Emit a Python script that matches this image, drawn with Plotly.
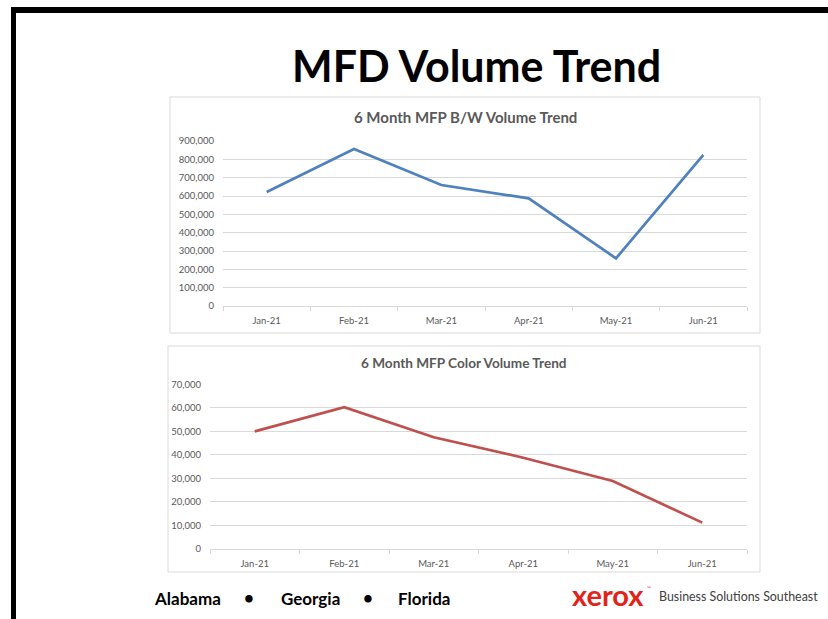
import plotly.graph_objects as go

W, H = 828, 619

months = ["Jan-21", "Feb-21", "Mar-21", "Apr-21", "May-21", "Jun-21"]
bw_volume = [622000, 856000, 660000, 587000, 260000, 824000]
color_volume = [50000, 60300, 47500, 38800, 28900, 11200]
bw_ticks = [0, 100000, 200000, 300000, 400000, 500000, 600000, 700000, 800000, 900000]
color_ticks = [0, 10000, 20000, 30000, 40000, 50000, 60000, 70000]
states = ["Alabama", "Georgia", "Florida"]

def px(x):
    return x / W

def py(y):
    return 1 - y / H

fig = go.Figure()
fig.add_trace(go.Scatter(x=months, y=bw_volume, mode="lines",
                         line=dict(color="#4F81BD", width=2.7),
                         xaxis="x", yaxis="y", showlegend=False, hoverinfo="skip"))
fig.add_trace(go.Scatter(x=months, y=color_volume, mode="lines",
                         line=dict(color="#C0504D", width=2.7),
                         xaxis="x2", yaxis="y2", showlegend=False, hoverinfo="skip"))

FONT = "Lato, Open Sans, sans-serif"
tickfont = dict(family=FONT, size=9.5, color="#595959")
common_x = dict(type="category", showgrid=False, showline=True, linecolor="#d9d9d9",
                linewidth=1, ticks="outside", tickson="boundaries", ticklen=4,
                tickcolor="#d9d9d9", tickfont=tickfont, fixedrange=True,
                range=[-0.5, 5.5], ticklabelstandoff=6, automargin=False)
common_y = dict(showgrid=True, gridcolor="#d9d9d9", gridwidth=1, showline=False,
                zeroline=False, tickformat=",", tickfont=tickfont, ticks="",
                ticklabelstandoff=8, fixedrange=True, automargin=False)

fig.update_layout(
    width=W, height=H,
    margin=dict(l=0, r=0, t=0, b=0, pad=0, autoexpand=False),
    paper_bgcolor="white", plot_bgcolor="white",
    xaxis=dict(domain=[px(223), px(747)], anchor="y", **common_x),
    yaxis=dict(domain=[py(306), py(141)], anchor="x", range=[0, 900000],
               tickvals=bw_ticks, **common_y),
    xaxis2=dict(domain=[px(210), px(747)], anchor="y2", **common_x),
    yaxis2=dict(domain=[py(549), py(384.3)], anchor="x2", range=[0, 70000],
                tickvals=color_ticks, **common_y),
)

shapes = [
    dict(type="rect", xref="paper", yref="paper", x0=px(11), x1=px(828), y0=py(13), y1=py(7),
         fillcolor="black", line=dict(width=0), layer="above"),
    dict(type="rect", xref="paper", yref="paper", x0=px(11), x1=px(16), y0=py(619), y1=py(7),
         fillcolor="black", line=dict(width=0), layer="above"),
    dict(type="rect", xref="paper", yref="paper", x0=px(170), x1=px(760), y0=py(333), y1=py(97),
         line=dict(color="#d9d9d9", width=1), layer="below"),
    dict(type="rect", xref="paper", yref="paper", x0=px(168), x1=px(760), y0=py(572), y1=py(346),
         line=dict(color="#d9d9d9", width=1), layer="below"),
]
fig.update_layout(shapes=shapes)

ann = [
    dict(text="<b>MFD Volume Trend</b>", x=px(476), y=py(65), font=dict(family=FONT, size=43, color="black")),
    dict(text="<b>6 Month MFP B/W Volume Trend</b>", x=px(465), y=py(117), font=dict(family=FONT, size=15, color="#595959")),
    dict(text="<b>6 Month MFP Color Volume Trend</b>", x=px(464), y=py(363), font=dict(family=FONT, size=13.6, color="#595959")),
    dict(text="<b>" + states[0] + "</b>", x=px(187), y=py(598), font=dict(family=FONT, size=17, color="black")),
    dict(text="<b>•</b>", x=px(249), y=py(597), font=dict(family=FONT, size=17, color="black")),
    dict(text="<b>" + states[1] + "</b>", x=px(310), y=py(598), font=dict(family=FONT, size=17, color="black")),
    dict(text="<b>•</b>", x=px(368), y=py(597), font=dict(family=FONT, size=17, color="black")),
    dict(text="<b>" + states[2] + "</b>", x=px(424), y=py(598), font=dict(family=FONT, size=17, color="black")),
    dict(text="<b>xerox</b>", x=px(608), y=py(594), font=dict(family=FONT, size=29, color="#E2231A")),
    dict(text="™", x=px(649), y=py(588), font=dict(family=FONT, size=5, color="#E2231A")),
    dict(text="Business Solutions Southeast", x=px(738), y=py(596), font=dict(family=FONT, size=12.4, color="#404040")),
]
for a in ann:
    a.update(xref="paper", yref="paper", showarrow=False, xanchor="center", yanchor="middle")
fig.update_layout(annotations=ann)

fig.write_html("out.html", config={"displayModeBar": False, "staticPlot": True},
               post_script="document.body.style.margin='0';document.body.style.overflow='hidden';")
